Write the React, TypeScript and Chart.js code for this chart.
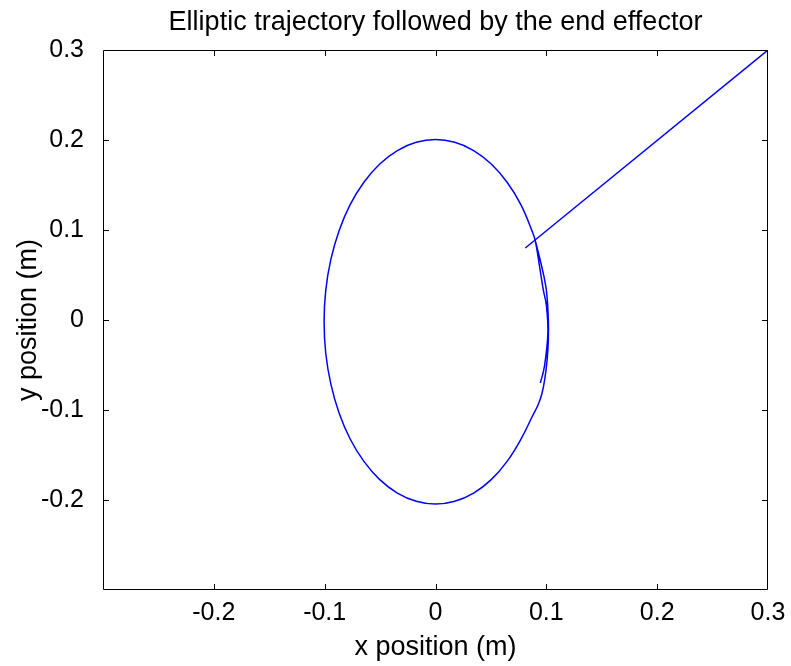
import React, { useEffect, useRef } from 'react';
import { Chart, registerables } from 'chart.js';

Chart.register(...registerables);

const TITLE = 'Elliptic trajectory followed by the end effector';
const X_LABEL = 'x position (m)';
const Y_LABEL = 'y position (m)';

const X_TICKS = [-0.3, -0.2, -0.1, 0, 0.1, 0.2, 0.3];
const Y_TICKS = [-0.3, -0.2, -0.1, 0, 0.1, 0.2, 0.3];
const HIDDEN_LABELS = [-0.3];

// straight initial segment
const LINE_X = [0.081, 0.3];
const LINE_Y = [0.08, 0.3];

// trajectory: inner strand up to the crossing, around the ellipse, outer strand back
const CURVE_X = [
  0.0946, 0.0982, 0.1014, 0.1, 0.0973, 0.0937, 0.0901,
  0.087, 0.077, 0.0646, 0.0503, 0.0344, 0.0174, 0, -0.0174, -0.0344, -0.0503,
  -0.0646, -0.077, -0.087, -0.0944, -0.099, -0.1005, -0.099, -0.0944, -0.087,
  -0.077, -0.0646, -0.0503, -0.0344, -0.0174, 0, 0.0174, 0.0344, 0.0503,
  0.0646, 0.0772, 0.0875, 0.0925,
  0.096, 0.0988, 0.1008, 0.1018, 0.1018, 0.1, 0.0955, 0.0901,
];
const CURVE_Y = [
  -0.07, -0.0522, -0.0144, 0.0167, 0.0333, 0.0611, 0.0878,
  0.0993, 0.1282, 0.1531, 0.1734, 0.1883, 0.1974, 0.2005, 0.1974, 0.1883, 0.1734,
  0.1531, 0.1282, 0.0993, 0.0673, 0.0332, -0.002, -0.0372, -0.0713, -0.1033,
  -0.1322, -0.1571, -0.1774, -0.1923, -0.2014, -0.2045, -0.2014, -0.1923, -0.1774,
  -0.1571, -0.1322, -0.1067, -0.0945,
  -0.082, -0.064, -0.043, -0.0222, 0.0, 0.0333, 0.0611, 0.0878,
];

const FONT = '"Liberation Sans", Arial, Helvetica, sans-serif';
const TICK_FONT_SIZE = 25;
const LABEL_FONT_SIZE = 27;

const fmt = (v: number) => {
  const r = Math.round(v * 10) / 10;
  if (HIDDEN_LABELS.some((h) => Math.abs(h - r) < 1e-9)) return '';
  return r === 0 ? '0' : r.toFixed(1);
};

const framePlugin = {
  id: 'matlabFrame',
  afterDraw(chart: any) {
    const { ctx, chartArea } = chart;
    const { left, right, top, bottom } = chartArea;
    const xs = chart.scales.x;
    const ys = chart.scales.y;
    ctx.save();
    ctx.strokeStyle = '#000';
    ctx.lineWidth = 1;
    ctx.beginPath();
    ctx.rect(left + 0.5, top + 0.5, right - left - 1, bottom - top - 1);
    ctx.stroke();
    const tl = 6;
    ctx.beginPath();
    X_TICKS.forEach((v) => {
      const raw = xs.getPixelForValue(v);
      if (raw <= left + 1 || raw >= right - 1) return;
      const px = Math.round(raw) + 0.5;
      ctx.moveTo(px, bottom);
      ctx.lineTo(px, bottom - tl);
      ctx.moveTo(px, top);
      ctx.lineTo(px, top + tl);
    });
    Y_TICKS.forEach((v) => {
      const raw = ys.getPixelForValue(v);
      if (raw <= top + 1 || raw >= bottom - 1) return;
      const py = Math.round(raw) + 0.5;
      ctx.moveTo(left, py);
      ctx.lineTo(left + tl, py);
      ctx.moveTo(right, py);
      ctx.lineTo(right - tl, py);
    });
    ctx.stroke();

    ctx.fillStyle = '#000';
    ctx.font = `${LABEL_FONT_SIZE}px ${FONT}`;
    ctx.textAlign = 'center';
    ctx.textBaseline = 'alphabetic';
    const cx = (left + right) / 2;
    ctx.fillText(TITLE, cx, 30);
    ctx.fillText(X_LABEL, cx, 655);
    ctx.translate(36, (top + bottom) / 2);
    ctx.rotate(-Math.PI / 2);
    ctx.fillText(Y_LABEL, 0, 0);
    ctx.restore();
  },
};

export default function App() {
  const canvasRef = useRef<HTMLCanvasElement | null>(null);

  useEffect(() => {
    const canvas = canvasRef.current;
    if (!canvas) return;
    const lineData = LINE_X.map((x, i) => ({ x, y: LINE_Y[i] }));
    const curveData = CURVE_X.map((x, i) => ({ x, y: CURVE_Y[i] }));
    const chart = new Chart(canvas, {
      type: 'scatter',
      data: {
        datasets: [
          {
            data: curveData,
            showLine: true,
            borderColor: '#0000ff',
            borderWidth: 1.5,
            pointRadius: 0,
            tension: 0.4,
            fill: false,
          },
          {
            data: lineData,
            showLine: true,
            borderColor: '#0000ff',
            borderWidth: 1.5,
            pointRadius: 0,
            tension: 0,
            fill: false,
          },
        ],
      },
      options: {
        animation: false,
        responsive: false,
        devicePixelRatio: 1,
        layout: { padding: { top: 50, right: 23, left: 0, bottom: 0 } },
        plugins: {
          legend: { display: false },
          tooltip: { enabled: false },
          title: { display: false },
        },
        scales: {
          x: {
            type: 'linear',
            min: -0.3,
            max: 0.3,
            afterBuildTicks: (s: any) => {
              s.ticks = X_TICKS.map((v) => ({ value: v }));
            },
            afterFit: (s: any) => {
              s.height = 76;
              s.paddingLeft = 0;
              s.paddingRight = 0;
            },
            grid: { display: false, drawTicks: false },
            border: { display: false },
            ticks: {
              color: '#000',
              font: { family: FONT, size: TICK_FONT_SIZE },
              padding: 8,
              maxRotation: 0,
              autoSkip: false,
              callback: (v: any) => fmt(Number(v)),
            },
          },
          y: {
            type: 'linear',
            min: -0.3,
            max: 0.3,
            afterBuildTicks: (s: any) => {
              s.ticks = Y_TICKS.map((v) => ({ value: v }));
            },
            afterFit: (s: any) => {
              s.width = 103;
              s.paddingTop = 0;
              s.paddingBottom = 0;
            },
            grid: { display: false, drawTicks: false },
            border: { display: false },
            ticks: {
              color: '#000',
              font: { family: FONT, size: TICK_FONT_SIZE },
              padding: 19,
              autoSkip: false,
              callback: (v: any) => fmt(Number(v)),
            },
          },
        },
      },
      plugins: [framePlugin],
    });
    return () => chart.destroy();
  }, []);

  return (
    <div style={{ position: 'fixed', left: 0, top: 0, width: 791, height: 666, background: '#fff' }}>
      <canvas ref={canvasRef} width={791} height={666} />
    </div>
  );
}
